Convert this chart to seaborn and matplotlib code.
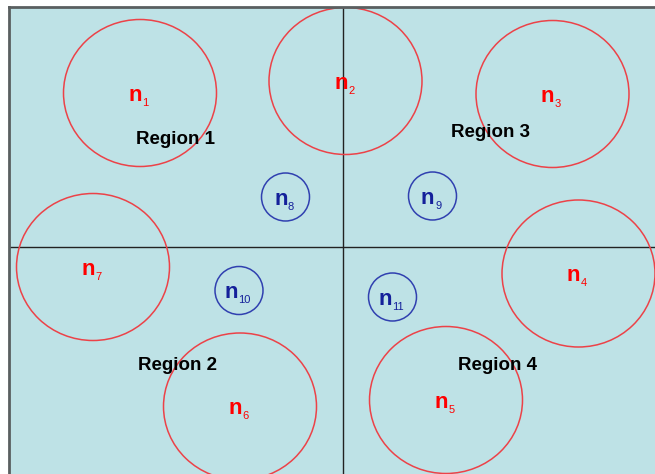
import matplotlib
matplotlib.use("Agg")
import matplotlib.pyplot as plt
from matplotlib.patches import Ellipse
import seaborn as sns

# ---- data (pixel-like layout units) ----
node_names = ["1", "2", "3", "4", "5", "6", "7", "8", "9", "10", "11"]
node_x = [140, 345.5, 552.5, 578.5, 446, 240, 93, 285.5, 432.5, 239, 392.5]
node_y = [93, 81, 94, 273.5, 400, 406.5, 267, 197, 196, 290.5, 297]
node_kind = ["big"] * 7 + ["small"] * 4

region_labels = ["Region 1", "Region 2", "Region 3", "Region 4"]
region_x = [136, 138, 451, 458]
region_y = [144, 370, 137, 370]

divider_x = 343
divider_y = 247

# ---- styles ----
BG = "#BEE2E6"
RED_EDGE = "#EC4248"
RED_TXT = "#FF0000"
BLUE_EDGE = "#3040B0"
BLUE_TXT = "#14209A"
size = {"big": (153, 147), "small": (48, 48)}
edge = {"big": RED_EDGE, "small": BLUE_EDGE}
txtc = {"big": RED_TXT, "small": BLUE_TXT}

sns.set_theme(style="white")
plt.rcParams["font.family"] = ["Liberation Sans", "DejaVu Sans"]

fig = plt.figure(figsize=(6.55, 4.74), dpi=100)
W, H = 655, 474
ax = fig.add_axes([9 / W, 0, (W - 9) / W, (H - 7) / H])
ax.set_xlim(9, 655)
ax.set_ylim(474, 7)
ax.set_facecolor(BG)
ax.set_xticks([])
ax.set_yticks([])
for s in ["right", "bottom"]:
    ax.spines[s].set_visible(False)
for s in ["left", "top"]:
    ax.spines[s].set_color("#5A5F60")
    ax.spines[s].set_linewidth(2.0)

ax.axvline(divider_x, color="#222222", lw=1.0, zorder=1)
ax.axhline(divider_y, color="#222222", lw=1.0, zorder=1)

for name, x, y, k in zip(node_names, node_x, node_y, node_kind):
    w, h = size[k]
    ax.add_patch(Ellipse((x, y), w, h, fill=False, edgecolor=edge[k],
                         lw=1.1, zorder=2))
    jx = x + (2 if len(name) == 1 else -1)
    ax.text(jx, y + 8, "n", color=txtc[k], fontsize=16, fontweight="bold",
            ha="right", va="baseline", zorder=3)
    ax.text(jx + 0.5, y + 13, name, color=txtc[k], fontsize=8,
            ha="left", va="baseline", zorder=3)

for lab, x, y in zip(region_labels, region_x, region_y):
    ax.text(x, y, lab, color="black", fontsize=13.5, fontweight="bold",
            ha="left", va="baseline", zorder=3)

fig.savefig("out.png", dpi=100, facecolor="white")
